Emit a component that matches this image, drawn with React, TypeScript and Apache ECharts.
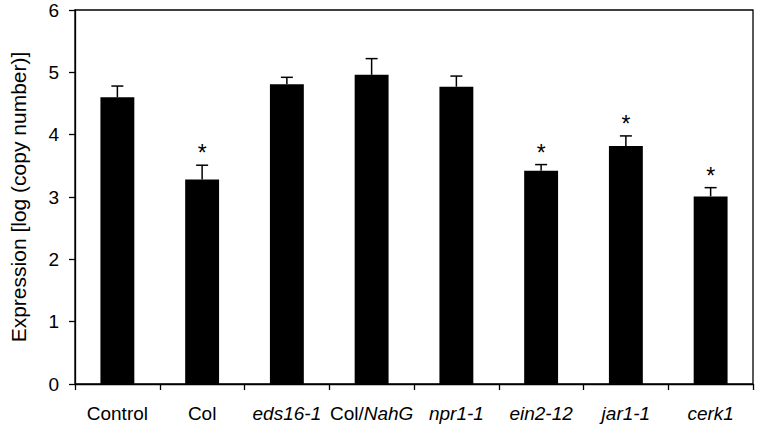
import React, { useEffect, useRef } from "react";
import * as echarts from "echarts";

const categories = ["Control", "Col", "eds16-1", "Col/NahG", "npr1-1", "ein2-12", "jar1-1", "cerk1"];
const labelMarkup = ["{n|Control}", "{n|Col}", "{i|eds16-1}", "{n|Col/}{i|NahG}", "{i|npr1-1}", "{i|ein2-12}", "{i|jar1-1}", "{i|cerk1}"];
const means = [4.6, 3.28, 4.81, 4.96, 4.77, 3.42, 3.82, 3.01];
const errors = [0.18, 0.23, 0.11, 0.26, 0.17, 0.1, 0.16, 0.14];
const significant = [false, true, false, false, false, true, true, true];
const yTicks = [0, 1, 2, 3, 4, 5, 6];

const FONT = "'Liberation Sans', Arial, Helvetica, sans-serif";
const TICK_FS = 19;

export default function App() {
  const ref = useRef<HTMLDivElement>(null);
  useEffect(() => {
    if (!ref.current) return;
    const chart = echarts.init(ref.current, null, { renderer: "svg" });
    const errData = categories.map((_, i) => [i, means[i], errors[i], significant[i] ? 1 : 0]);
    chart.setOption({
      animation: false,
      backgroundColor: "#ffffff",
      textStyle: { fontFamily: FONT },
      grid: {
        left: 72,
        right: 6,
        top: 10,
        bottom: 45,
        show: true,
        borderColor: "#000",
        borderWidth: 1.3,
        backgroundColor: "transparent",
      },
      xAxis: {
        type: "category",
        data: categories,
        axisLine: { lineStyle: { color: "#000", width: 1.3 } },
        axisTick: { show: true, length: 6, alignWithLabel: false, lineStyle: { color: "#000", width: 1.3 } },
        axisLabel: {
          margin: 20,
          color: "#000",
          fontSize: TICK_FS,
          fontFamily: FONT,
          interval: 0,
          formatter: (_v: string, idx: number) => labelMarkup[idx],
          rich: {
            n: { fontSize: TICK_FS, fontFamily: FONT, color: "#000" },
            i: { fontSize: TICK_FS, fontFamily: FONT, fontStyle: "italic", color: "#000" },
          },
        },
      },
      yAxis: {
        type: "value",
        min: yTicks[0],
        max: yTicks[yTicks.length - 1],
        interval: 1,
        name: "Expression [log (copy number)]",
        nameLocation: "middle",
        nameGap: 46,
        nameTextStyle: { fontSize: 21, color: "#000", fontFamily: FONT },
        axisLine: { show: true, lineStyle: { color: "#000", width: 1.3 } },
        axisTick: { show: true, length: 6, lineStyle: { color: "#000", width: 1.3 } },
        axisLabel: { margin: 16, color: "#000", fontSize: TICK_FS, fontFamily: FONT },
        splitLine: { show: false },
      },
      series: [
        {
          type: "bar",
          data: means,
          barWidth: "40%",
          itemStyle: { color: "#000" },
          z: 2,
        },
        {
          type: "custom",
          data: errData,
          z: 3,
          encode: { x: 0, y: 1 },
          renderItem: (params: any, api: any) => {
            const idx = api.value(0);
            const m = api.value(1);
            const e = api.value(2);
            const sig = api.value(3);
            const base = api.coord([idx, m]);
            const top = api.coord([idx, m + e]);
            const x = base[0];
            const half = 6;
            const children: any[] = [
              {
                type: "line",
                shape: { x1: x, y1: base[1], x2: x, y2: top[1] },
                style: { stroke: "#000", lineWidth: 1.5 },
              },
              {
                type: "line",
                shape: { x1: x - half, y1: top[1], x2: x + half, y2: top[1] },
                style: { stroke: "#000", lineWidth: 1.5 },
              },
            ];
            if (sig) {
              children.push({
                type: "text",
                style: {
                  text: "*",
                  x: x,
                  y: top[1] - 12,
                  textAlign: "center",
                  textVerticalAlign: "middle",
                  fontSize: 23,
                  fontFamily: FONT,
                  fill: "#000",
                },
              });
            }
            return { type: "group", children };
          },
        },
      ],
    });
    return () => chart.dispose();
  }, []);
  return (
    <div
      ref={ref}
      style={{ position: "fixed", left: 0, top: 0, width: 759, height: 429, background: "#fff" }}
    />
  );
}
